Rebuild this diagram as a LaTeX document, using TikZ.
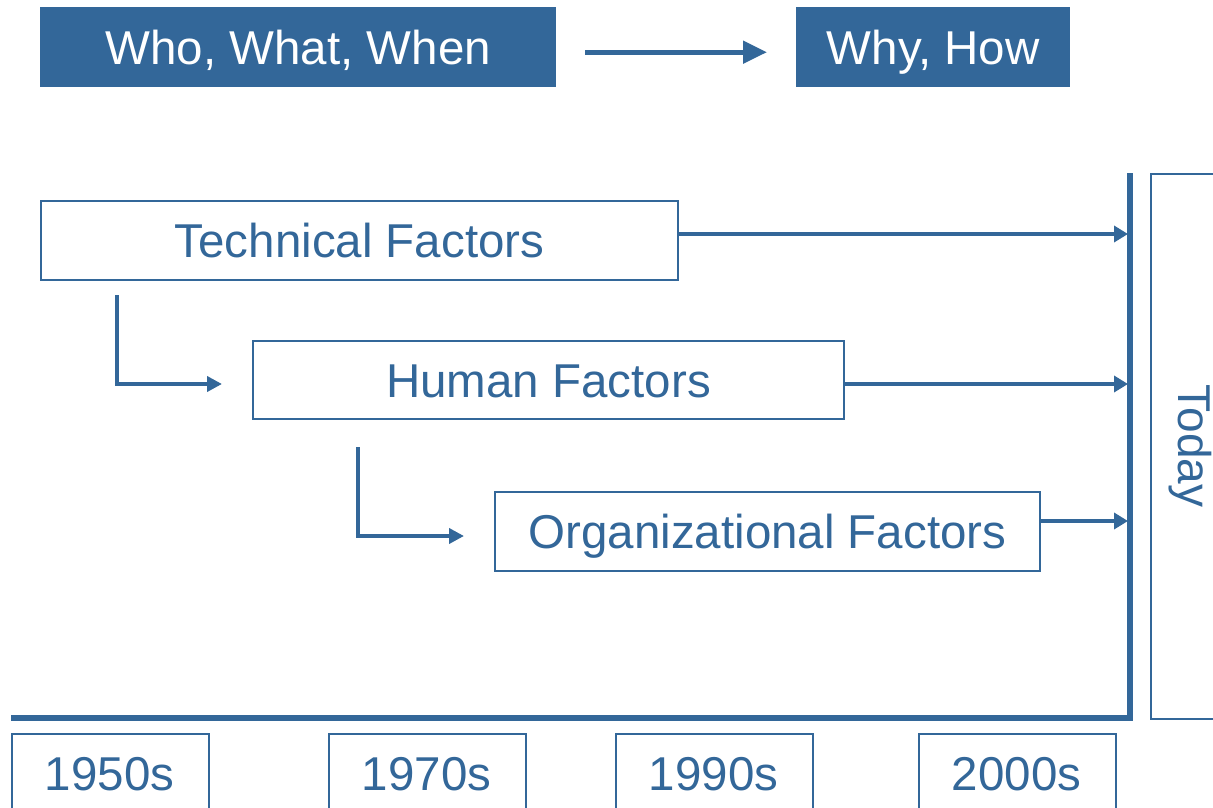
\documentclass[tikz,border=0pt]{standalone}
\usepackage{fontspec}
\setmainfont{Liberation Sans}
\usetikzlibrary{arrows.meta}
\definecolor{pblue}{RGB}{51,103,153}
\begin{document}
\begin{tikzpicture}[x=1pt,y=-1pt,
  bigfont/.style={font=\fontsize{47.5}{56}\selectfont,text height=34pt,text depth=0pt},
  filledbox/.style={fill=pblue,draw=none,text=white,bigfont,anchor=north west,inner sep=0pt},
  outbox/.style={draw=pblue,line width=2pt,fill=white,text=pblue,bigfont,anchor=north west,inner sep=0pt},
  toparrow/.style={draw=pblue,line width=5pt,-{Triangle[length=24pt,width=22pt]}},
  factarrow/.style={draw=pblue,line width=3.5pt,-{Triangle[length=14pt,width=16pt]}},
  elbowarrow/.style={draw=pblue,line width=4pt,-{Triangle[length=15pt,width=15pt]}},
  axisline/.style={draw=pblue,line width=6pt}]
\clip (0,0) rectangle (1213,808);
\fill[white] (0,0) rectangle (1213,808);
% top boxes
\node[filledbox,minimum width=516pt,minimum height=80pt] (www) at (40,7) {Who, What, When};
\node[filledbox,minimum width=274pt,minimum height=80pt] (wh) at (796,7) {Why, How};
\draw[toparrow] ([xshift=29pt,yshift=-5pt]www.east) -- ([xshift=-29pt,yshift=-5pt]wh.west);
% factor boxes
\node[outbox,minimum width=637pt,minimum height=79pt] (tech) at (40,200) {Technical Factors};
\node[outbox,minimum width=591pt,minimum height=78pt] (human) at (252,340) {Human Factors};
\node[outbox,minimum width=545pt,minimum height=79pt] (org) at (494,491) {Organizational Factors};
% axes
\coordinate (vtop) at (1130,173);
\coordinate (vbot) at (1130,721);
\coordinate (hleft) at (11,718);
\coordinate (hright) at (1133,718);
\draw[axisline] (vtop) -- (vbot);
\draw[axisline] (hleft) -- (hright);
% arrows to today line
\draw[factarrow] (tech.east |- 0,234) -- (1128,234);
\draw[factarrow] (human.east |- 0,384) -- (1128,384);
\draw[factarrow] (org.east |- 0,521) -- (1128,521);
% elbow arrows
\coordinate (e1s) at (117,295);
\coordinate (e1e) at (222,384);
\coordinate (e2s) at (358,447);
\coordinate (e2e) at (464,536);
\draw[elbowarrow] (e1s) |- (e1e);
\draw[elbowarrow] (e2s) |- (e2e);
% today box
\node[draw=pblue,line width=2pt,anchor=north west,minimum width=100pt,minimum height=545pt,inner sep=0pt] (todaybox) at (1150,173) {};
\node[text=pblue,font=\fontsize{46}{55}\selectfont,rotate=-90,inner sep=0pt] (today) at (1190,446) {Today};
% decade boxes
\node[outbox,minimum width=197pt,minimum height=120pt] (d1) at (11,733) {};
\node[outbox,minimum width=197pt,minimum height=120pt] (d2) at (328,733) {};
\node[outbox,minimum width=197pt,minimum height=120pt] (d3) at (615,733) {};
\node[outbox,minimum width=197pt,minimum height=120pt] (d4) at (918,733) {};
\node[text=pblue,bigfont,inner sep=0pt] (t1) at (109.5,773) {1950s};
\node[text=pblue,bigfont,inner sep=0pt] (t2) at (426.5,773) {1970s};
\node[text=pblue,bigfont,inner sep=0pt] (t3) at (713.5,773) {1990s};
\node[text=pblue,bigfont,inner sep=0pt] (t4) at (1016.5,773) {2000s};
\end{tikzpicture}
\end{document}
